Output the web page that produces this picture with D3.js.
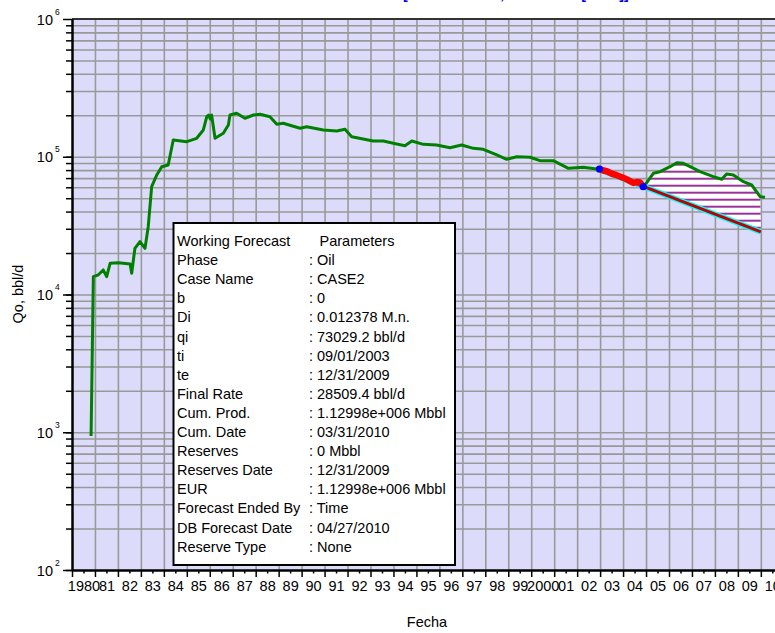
<!DOCTYPE html>
<html>
<head>
<meta charset="utf-8">
<script src="https://cdn.jsdelivr.net/npm/d3@7"></script>
<style>
body{margin:0;background:#fff}
svg{display:block;font-family:Arial,"Liberation Sans",sans-serif}
</style>
</head>
<body>
<svg id="chart" width="775" height="633"></svg>
<script>
// actual oil rate history (decimal year, bbl/d)
var prodDates = [1980.83,1980.93,1981.15,1981.36,1981.51,1981.66,1982.02,1982.53,1982.60,1982.74,1982.96,1983.18,1983.32,1983.47,1983.69,1983.91,1984.19,1984.41,1985.00,1985.43,1985.72,1985.87,1985.95,1986.02,1986.08,1986.23,1986.59,1986.81,1986.88,1987.17,1987.53,1987.90,1988.19,1988.62,1988.92,1989.20,1989.93,1990.22,1990.95,1991.53,1991.89,1992.18,1993.12,1993.56,1993.99,1994.50,1994.80,1995.30,1995.88,1996.46,1996.97,1997.48,1997.91,1998.50,1998.93,1999.37,1999.95,2000.38,2000.96,2001.62,2002.27,2002.85,2002.97,2003.14,2003.29,2003.50,2003.72,2004.00,2004.16,2004.45,2004.60,2004.74,2004.88,2005.03,2005.32,2005.61,2006.05,2006.34,2006.62,2006.92,2007.35,2007.93,2008.30,2008.51,2008.80,2009.24,2009.60,2009.97,2010.18]
var prodRates = [939,13470,13900,15070,13470,16850,17020,16650,14250,21650,24170,21650,31070,60630,73730,84680,87120,132300,128600,136100,156400,195300,200900,188000,200900,136100,148000,170000,200900,206800,190200,200900,203300,195300,172000,174900,160900,165200,156400,153800,158200,139800,130100,130100,125200,120300,130100,123100,121700,116300,121700,115100,113300,103000,95800,100100,99100,93600,93600,82460,83850,81500,81500,79500,78500,75500,73500,70500,68500,64500,65500,65000,60630,64800,75830,77900,84680,90550,89650,84680,77900,71650,68600,74970,73730,65900,62360,51290,50770]

// fit window markers
var markDates = [2002.97, 2004.88]
var markRates = [81500, 60630]

// forecast line (exponential, b = 0)
var fcDates = [2002.97, 2010.0]
var fcRates = [81000, 28509.4]

var yearTicks = d3.range(1980, 2011)
var decades = [1e2, 1e3, 1e4, 1e5, 1e6]
var decadeExp = ['2','3','4','5','6']

var legLabels = ['Working Forecast','Phase','Case Name','b','Di','qi','ti','te','Final Rate','Cum. Prod.','Cum. Date','Reserves','Reserves Date','EUR','Forecast Ended By','DB Forecast Date','Reserve Type']
var legValues = ['Parameters',': Oil',': CASE2',': 0',': 0.012378 M.n.',': 73029.2 bbl/d',': 09/01/2003',': 12/31/2009',': 28509.4 bbl/d',': 1.12998e+006 Mbbl',': 03/31/2010',': 0 Mbbl',': 12/31/2009',': 1.12998e+006 Mbbl',': Time',': 04/27/2010',': None']

var svg = d3.select('#chart')
var L = 72, R = 783.8, T = 19, B = 570

var x = d3.scaleLinear().domain([1980, 2011]).range([L, R])
var y = d3.scaleLog().domain([1e2, 1e6]).range([B, T])

var minorY = []
decades.slice(0, 4).forEach(function(d){ for (var k = 1; k < 10; k++) minorY.push(d*k) })

// title (cut off at top of picture)
svg.append('text').attr('x', 403).attr('y', -0.8)
	.style('font-size', '14px').style('font-weight', 'bold').style('fill', '#0000ff')
	.text('[Rate Forecast, CASE2 Oil [bbl/d]]')

svg.append('rect').attr('x', L).attr('y', T).attr('width', R - L).attr('height', B - T)
	.style('fill', '#dcdcfa')

// grid
var grid = svg.append('g').attr('id', 'grid')
grid.append('g').attr('transform', 'translate(0,' + B + ')')
	.call(d3.axisBottom(x).tickValues(yearTicks.slice(1)).tickSize(-(B - T)).tickFormat(''))
grid.append('g').attr('transform', 'translate(' + L + ',0)')
	.call(d3.axisLeft(y).tickValues(minorY.slice(1)).tickSize(-(R - L)).tickFormat(''))
grid.selectAll('.domain').remove()
grid.selectAll('line').style('stroke', '#999999').style('stroke-width', 1.6)

// top border
svg.append('line').attr('x1', L).attr('x2', R).attr('y1', T).attr('y2', T)
	.style('stroke', '#333').style('stroke-width', 2)

// hatched area between actual and forecast
var defs = svg.append('defs')
var pat = defs.append('pattern').attr('id', 'hatch').attr('patternUnits', 'userSpaceOnUse')
	.attr('width', 8).attr('height', 7)
pat.append('rect').attr('width', 8).attr('height', 7).style('fill', '#ffffff')
pat.append('line').attr('x1', 0).attr('x2', 8).attr('y1', 3.7).attr('y2', 3.7)
	.style('stroke', '#993399').style('stroke-width', 2)
defs.append('clipPath').attr('id', 'plotclip').append('rect')
	.attr('x', L).attr('y', T).attr('width', R - L).attr('height', B - T)

var plot = svg.append('g').attr('clip-path', 'url(#plotclip)')

var line = d3.line().x(function(d){ return x(d[0]) }).y(function(d){ return y(d[1]) })
var prod = prodDates.map(function(d, i){ return [d, prodRates[i]] })

var hatchPts = prod.filter(function(d){ return d[0] >= markDates[1] && d[0] <= fcDates[1] })
hatchPts.push([fcDates[1], fcRates[1]])
plot.append('path').datum(hatchPts).attr('d', line(hatchPts) + 'Z')
	.style('fill', 'url(#hatch)').style('stroke', 'none')

plot.append('path').datum(prod).attr('d', line)
	.style('fill', 'none').style('stroke', '#008000').style('stroke-width', 3).style('stroke-linejoin', 'round')

var fc = fcDates.map(function(d, i){ return [d, fcRates[i]] })
plot.append('path').datum(fc).attr('d', line)
	.style('fill', 'none').style('stroke', '#00ffff').style('stroke-width', 5.5)
plot.append('path').datum(fc).attr('d', line)
	.style('fill', 'none').style('stroke', '#c00000').style('stroke-width', 3)

var fit = prod.filter(function(d){ return d[0] >= markDates[0] && d[0] <= markDates[1] })
plot.append('path').datum(fit).attr('d', line)
	.style('fill', 'none').style('stroke', '#ff0000').style('stroke-width', 6.5)
	.style('stroke-linejoin', 'round').style('stroke-linecap', 'round')

plot.selectAll('circle.mark').data(markDates).enter().append('circle').attr('class', 'mark')
	.attr('cx', function(d){ return x(d) })
	.attr('cy', function(d, i){ return y(markRates[i]) })
	.attr('r', 3.6).style('fill', '#0000ff')

// axes
var xAxis = svg.append('g').attr('transform', 'translate(0,' + B + ')')
xAxis.append('g').call(d3.axisBottom(x).tickValues(yearTicks).tickSize(7).tickSizeOuter(0).tickFormat(''))
xAxis.append('g').call(d3.axisBottom(x).tickValues(yearTicks.map(function(d){ return d + 0.5 })).tickSize(3.5).tickSizeOuter(0).tickPadding(7.5)
	.tickFormat(function(d){ var yr = Math.floor(d); return (yr == 1980 || yr == 2000) ? String(yr) : d3.format('02d')(yr % 100) }))
xAxis.selectAll('.domain').style('stroke', '#000').style('stroke-width', 2)
xAxis.selectAll('line').style('stroke', '#000').style('stroke-width', 1.5)
xAxis.selectAll('text').style('font-size', '14.5px').style('fill', '#000').style('font-family', 'Arial, "Liberation Sans", sans-serif')

var yAxis = svg.append('g').attr('transform', 'translate(' + L + ',0)')
yAxis.append('g').call(d3.axisLeft(y).tickValues(minorY).tickSize(6).tickSizeOuter(0).tickFormat(''))
yAxis.append('g').call(d3.axisLeft(y).tickValues(decades).tickSize(9).tickSizeOuter(0).tickFormat(''))
yAxis.selectAll('.domain').style('stroke', '#000').style('stroke-width', 2)
yAxis.selectAll('line').style('stroke', '#000').style('stroke-width', 1.5)

var yLab = svg.append('g').style('font-size', '14.5px')
decades.forEach(function(d, i){
	yLab.append('text').attr('x', 53).attr('y', y(d) + 5.5).attr('text-anchor', 'end').text('10')
	yLab.append('text').attr('x', 55).attr('y', y(d) - 4.5).style('font-size', '8.5px').text(decadeExp[i])
})

svg.append('text').attr('transform', 'translate(23,294) rotate(-90)').attr('text-anchor', 'middle')
	.style('font-size', '14.5px').text('Qo, bbl/d')
svg.append('text').attr('x', 427).attr('y', 627).attr('text-anchor', 'middle')
	.style('font-size', '14.5px').text('Fecha')

// forecast parameters box
var leg = svg.append('g').attr('id', 'legend')
leg.append('rect').attr('x', 173.5).attr('y', 223).attr('width', 281.5).attr('height', 342)
	.style('fill', '#fff').style('stroke', '#000').style('stroke-width', 2)
legLabels.forEach(function(e, i){
	leg.append('text').attr('x', 177).attr('y', 246 + i*19.1).style('font-size', '14.5px').text(e)
	leg.append('text').attr('x', i == 0 ? 319.5 : 309).attr('y', 246 + i*19.1).style('font-size', '14.5px').text(legValues[i])
})
</script>
</body>
</html>
